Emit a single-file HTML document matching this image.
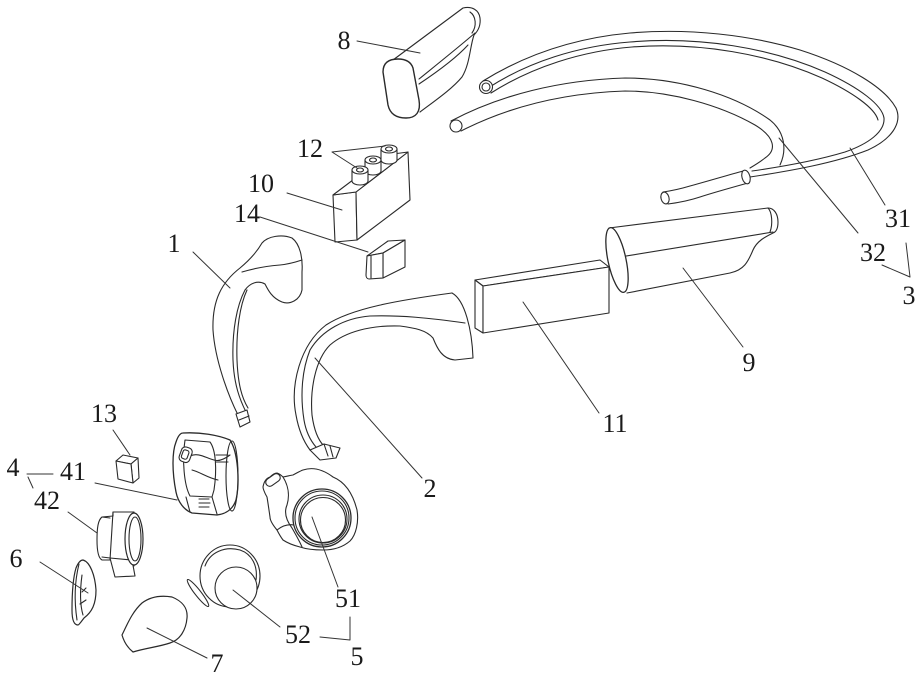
<!DOCTYPE html>
<html>
<head>
<meta charset="utf-8">
<style>
html,body{margin:0;padding:0;background:#fff;}
svg{display:block;}
text{font-family:"Liberation Serif","Noto Serif CJK SC",serif;font-size:26px;fill:#1a1a1a;}
</style>
</head>
<body>
<svg width="922" height="680" viewBox="0 0 922 680" xmlns="http://www.w3.org/2000/svg">
<g fill="none" stroke="#2a2a2a" stroke-width="1.1" stroke-linejoin="round" stroke-linecap="round">

<!-- ===== Part 8 ===== -->
<path d="M393,60 L463,8 C472,6 479,10 480,18 C481,26 478,31 474,35 C470,46 470,64 462,77 C452,89 436,100 420,112"/>
<path d="M419,79 C440,62 460,46 475,33"/>
<path d="M419,84 C440,70 458,56 468,45"/>
<path d="M470,12 C476,16 477,26 472,33"/>
<path fill="#fff" stroke-width="1.4" d="M383,72 C383,62 390,59 398,59 C406,59 411,62 413,68 L419,100 C421,112 416,118 406,118 C396,118 390,114 388,105 Z"/>

<!-- ===== Tubes 31 / 32 ===== -->
<!-- tube 31 -->
<path d="M483,81 C525,55 575,38 630,33 C690,28 750,35 800,50 C850,66 885,88 896,108 C903,124 890,140 868,150 C835,163 790,171 750,177"/>
<path d="M488,88 C528,62 578,46 630,42 C700,36 770,48 825,72 C860,88 882,105 884,118 C885,132 868,144 845,152 C815,161 780,167 752,171"/>
<path d="M491,93 C532,67 582,51 632,47 C700,42 768,54 822,78 C852,92 875,108 878,120"/>
<circle cx="486" cy="87" r="6.5" fill="#fff"/>
<circle cx="486" cy="87" r="4"/>
<!-- tube 32 -->
<path d="M451,121 C500,95 560,80 625,78 C680,78 735,95 770,120 C785,132 787,150 780,165"/>
<path d="M461,131 C510,106 565,93 625,91 C670,91 720,105 755,125 C775,137 777,150 765,158 C760,162 755,165 750,168"/>
<circle cx="456" cy="126" r="6" fill="#fff"/>
<!-- lower segment -->
<path d="M743,171 C725,176 705,182 690,186 C680,189 670,191 663,192"/>
<path d="M748,183 C730,188 712,193 700,197 C688,201 676,203 668,204"/>
<ellipse cx="665" cy="198" rx="4" ry="6" transform="rotate(-15 665 198)" fill="#fff"/>
<ellipse cx="746" cy="177" rx="4" ry="7" transform="rotate(-15 746 177)" fill="#fff"/>

<!-- ===== Box 10 with knobs 12 ===== -->
<path fill="#fff" d="M333,195 L356,192 L357,240 L335,242 Z"/>
<path fill="#fff" d="M356,192 L408,152 L410,200 L357,240 Z"/>
<path fill="#fff" d="M333,195 L386,155 L408,152 L356,192 Z"/>
<!-- knobs -->
<g fill="#fff">
<path d="M381,149 L381,160 A8,4 0 0 0 397,160 L397,149"/>
<ellipse cx="389" cy="149" rx="8" ry="4"/>
<ellipse cx="389" cy="149" rx="3.5" ry="2"/>
<path d="M365,160 L365,171 A8,4 0 0 0 381,171 L381,160"/>
<ellipse cx="373" cy="160" rx="8" ry="4"/>
<ellipse cx="373" cy="160" rx="3.5" ry="2"/>
<path d="M352,170 L352,181 A8,4 0 0 0 368,181 L368,170"/>
<ellipse cx="360" cy="170" rx="8" ry="4"/>
<ellipse cx="360" cy="170" rx="3.5" ry="2"/>
</g>

<!-- ===== Block 14 ===== -->
<path fill="#fff" d="M367,256 L388,241 L405,240 L383,253 Z"/>
<path fill="#fff" d="M383,253 L405,240 L405,267 L383,278 Z"/>
<path fill="#fff" d="M367,256 L383,253 L383,278 L369,279 C367,279 366,277 366,275 Z"/>
<path d="M371,256 L371,278"/>

<!-- ===== Part 1 ===== -->
<path d="M238,415 C228,395 215,360 213,330 C212,300 222,282 240,268 C252,258 258,250 262,243 C268,236 282,234 292,238 C300,244 303,258 302,272 L302,290 C300,300 290,305 282,302 C272,298 268,290 265,284 C258,280 250,283 245,290 C237,305 232,330 233,360 C234,385 240,400 246,412"/>
<path d="M242,272 C255,268 268,266 280,265 C290,264 296,262 302,260"/>
<path d="M247,290 C240,305 236,330 237,360 C238,385 242,398 248,408"/>
<path fill="#fff" d="M236,414 L247,410 L250,422 L240,427 Z"/>
<path d="M239,420 L249,416"/>

<!-- ===== Part 2 ===== -->
<path d="M452,293 C400,300 352,308 326,325 C300,345 290,385 296,415 C299,432 304,442 310,450"/>
<path d="M452,293 C465,300 472,330 473,358 L455,360 C442,359 437,348 433,338 C426,330 415,328 400,326 C370,325 345,332 330,345 C315,360 310,390 312,415 C314,430 318,440 324,446"/>
<path d="M465,323 C430,318 400,315 370,316 C345,318 322,330 310,350 C302,370 300,395 304,420 C306,432 310,440 316,447"/>
<path fill="#fff" d="M310,450 L324,444 L340,448 L336,458 L320,460 Z"/>
<path d="M324,444 L328,456"/>
<path d="M330,446 L333,457"/>

<!-- ===== Box 11 ===== -->
<path fill="#fff" d="M475,280 L600,260 L609,267 L483,286 Z"/>
<path fill="#fff" d="M475,280 L483,286 L483,333 L475,328 Z"/>
<path fill="#fff" d="M483,286 L609,267 L609,313 L483,333 Z"/>

<!-- ===== Part 9 ===== -->
<path fill="#fff" d="M609,228 L768,208 C774,208 778,214 778,222 C778,229 776,232 773,233 C765,237 757,241 753,250 C748,262 744,270 730,273 L627,293"/>
<path d="M620,257 L773,232"/>
<path d="M768,208 C772,212 773,224 770,232"/>
<ellipse cx="617" cy="260" rx="9" ry="33" transform="rotate(-12 617 260)" fill="#fff" stroke-width="1.3"/>

<!-- ===== Part 13 ===== -->
<path fill="#fff" d="M116,461 L123,455 L138,458 L131,464 Z"/>
<path fill="#fff" d="M131,464 L138,458 L139,478 L133,483 Z"/>
<path fill="#fff" d="M116,461 L131,464 L133,483 L118,479 Z"/>

<!-- ===== Part 41 ===== -->
<path fill="#fff" stroke-width="1.3" d="M183,433 C200,432 218,435 230,440 C238,452 240,482 236,500 C233,509 226,514 217,515 L192,513 C184,510 178,502 176,492 C172,472 172,452 176,442 C178,436 180,433 183,433 Z"/>
<ellipse cx="232" cy="476" rx="6" ry="35" />
<path d="M185,440 L210,442 C216,450 217,470 214,490 L212,497 L190,496 C184,485 182,460 185,440 Z"/>
<path d="M190,456 C198,452 206,458 214,460 C220,462 226,458 230,455"/>
<path d="M192,470 C200,472 208,478 218,480"/>
<path d="M216,455 L228,455 M216,462 L228,462"/>
<rect x="180" y="447" width="11" height="15" rx="4" transform="rotate(20 185 455)" fill="#fff"/>
<rect x="182" y="450" width="6" height="9" rx="2" transform="rotate(20 185 455)"/>
<path d="M199,499 L209,499 M199,503 L210,503 M199,507 L209,507"/>
<path d="M186,497 L190,512 M212,497 L217,514"/>

<!-- ===== Part 51 ===== -->
<path fill="#fff" d="M303,470 C315,466 325,471 333,477 C345,482 353,494 357,510 C359,522 356,535 350,541 C342,548 332,550 323,550 C312,550 306,549 300,547 C292,545 286,542 283,540 C280,536 278,532 277,530 C272,524 270,520 270,517 C269,510 268,503 267,497 C264,492 263,488 263,487 C264,481 267,478 270,477 C273,474 275,473 277,473 C280,474 282,476 283,477 C288,476 292,475 293,475 C297,473 300,471 303,470 Z"/>
<rect x="265" y="476" width="16" height="8" rx="4" transform="rotate(-35 273 480)"/>
<path d="M283,477 C288,485 290,495 287,505 C284,512 286,520 292,528 C296,535 300,542 302,547"/>
<path d="M277,530 C282,526 288,524 294,525"/>
<circle cx="322" cy="518" r="29" fill="#fff" stroke-width="1.3"/>
<circle cx="322" cy="518" r="27"/>
<circle cx="323" cy="519" r="24"/>
<circle cx="323" cy="520" r="22.5"/>

<!-- ===== Part 42 ===== -->
<path fill="#fff" d="M113,512 L134,512 L134,566 L110,560 L102,560 C98,558 97,550 97,540 C97,528 98,520 102,517 L113,516 Z"/>
<path d="M113,512 L110,560"/>
<path d="M102,517 L110,518 M102,557 L110,558"/>
<path fill="#fff" d="M110,558 L132,560 L135,576 L115,577 Z"/>
<ellipse cx="134" cy="539" rx="9" ry="26" fill="#fff" stroke-width="1.2"/>
<ellipse cx="135" cy="539" rx="6" ry="22"/>

<!-- ===== Part 6 ===== -->
<path fill="#fff" stroke-width="1.2" d="M83,560 C90,562 95,575 96,590 C96,604 92,612 84,618 C81,622 79,625 78,625 C74,625 72,620 72,610 C72,595 73,578 76,568 C78,563 80,560 83,560 Z"/>
<path d="M79,564 C75,580 74,600 77,620"/>
<path d="M82,575 C80,590 80,605 83,615 M86,588 L82,592 M86,600 L80,604"/>

<!-- ===== Part 7 ===== -->
<path fill="#fff" stroke-width="1.2" d="M122,635 C127,625 132,612 142,603 C150,597 160,595 172,597 C182,601 188,608 187,618 C186,630 180,640 170,643 C158,647 146,648 133,652 C128,648 124,642 122,635 Z"/>

<!-- ===== Gasket ===== -->
<ellipse cx="198" cy="593" rx="3" ry="17" transform="rotate(-38 198 593)" fill="#fff"/>

<!-- ===== Part 52 ===== -->
<ellipse cx="230" cy="576" rx="30" ry="31" fill="#fff"/>
<path d="M205,566 C210,552 225,546 240,550 C252,554 258,566 256,580"/>
<circle cx="236" cy="588" r="21" fill="#fff"/>

<!-- ===== Leader lines ===== -->
<g stroke="#333" stroke-width="1">
<path d="M357,41 L420,53"/>
<path d="M332,152 L357,168 M332,152 L385,146"/>
<path d="M287,193 L342,210"/>
<path d="M260,217 L368,252"/>
<path d="M193,252 L230,288"/>
<path d="M850,148 L885,205"/>
<path d="M779,138 L858,233"/>
<path d="M882,265 L910,277 L906,243"/>
<path d="M683,268 L743,347"/>
<path d="M523,302 L599,413"/>
<path d="M315,358 L422,478"/>
<path d="M113,430 L130,455"/>
<path d="M27,474 L53,474 M28,477 L33,488"/>
<path d="M95,483 L177,500"/>
<path d="M68,512 L97,533"/>
<path d="M40,562 L88,593"/>
<path d="M147,628 L207,658"/>
<path d="M233,590 L280,627"/>
<path d="M320,637 L350,640 L350,617"/>
<path d="M312,517 L338,587"/>
</g>
</g>

<!-- ===== Labels ===== -->
<g text-anchor="middle">
<text x="344" y="49">8</text>
<text x="310" y="157">12</text>
<text x="261" y="192">10</text>
<text x="247" y="222">14</text>
<text x="174" y="252">1</text>
<text x="898" y="227">31</text>
<text x="873" y="261">32</text>
<text x="909" y="304">3</text>
<text x="749" y="371">9</text>
<text x="615" y="432">11</text>
<text x="430" y="497">2</text>
<text x="104" y="422">13</text>
<text x="13" y="476">4</text>
<text x="73" y="480">41</text>
<text x="47" y="509">42</text>
<text x="16" y="567">6</text>
<text x="348" y="607">51</text>
<text x="298" y="643">52</text>
<text x="357" y="665">5</text>
<text x="217" y="672">7</text>
</g>
</svg>
</body>
</html>
